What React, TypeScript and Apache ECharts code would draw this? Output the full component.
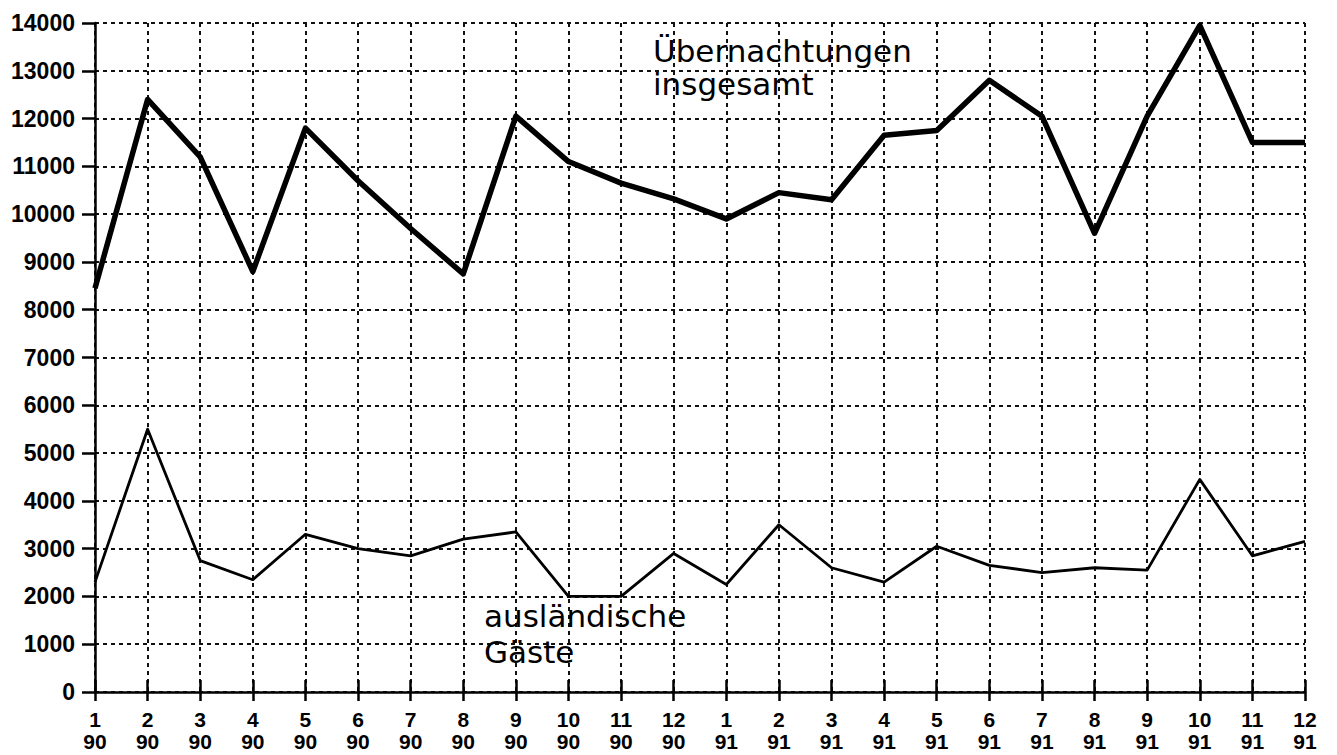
import React, { useEffect, useRef } from "react";
import * as echarts from "echarts";

const months = ["1","2","3","4","5","6","7","8","9","10","11","12","1","2","3","4","5","6","7","8","9","10","11","12"];
const years = ["90","90","90","90","90","90","90","90","90","90","90","90","91","91","91","91","91","91","91","91","91","91","91","91"];
const categories = months.map((m, i) => m + "\n" + years[i]);

const uebernachtungen = [8450, 12400, 11200, 8800, 11800, 10700, 9700, 8750, 12050, 11100, 10650, 10320, 9900, 10450, 10300, 11650, 11750, 12800, 12050, 9600, 12050, 13950, 11500, 11500];
const auslaendische = [2300, 5500, 2750, 2350, 3300, 3000, 2850, 3200, 3350, 2000, 2000, 2900, 2250, 3500, 2600, 2300, 3050, 2650, 2500, 2600, 2550, 4450, 2850, 3150];

const yMin = 0;
const yMax = 14000;
const yStep = 1000;

const labelTop = "Übernachtungen\ninsgesamt";
const labelBottom = "ausländische\nGäste";

export default function App() {
  const ref = useRef<HTMLDivElement>(null);
  useEffect(() => {
    if (!ref.current) return;
    const chart = echarts.init(ref.current, null, { renderer: "svg" });
    const dotted = { color: "#111", width: 2, type: [4, 4] as number[] };
    chart.setOption({
      animation: false,
      backgroundColor: "#fff",
      grid: { left: 95, right: 32, top: 23, bottom: 63, containLabel: false },
      xAxis: [
        {
          type: "category",
          data: categories,
          boundaryGap: false,
          axisLine: { show: true, lineStyle: { color: "#000", width: 2.5 } },
          axisTick: { show: true, alignWithLabel: true, length: 9, lineStyle: { color: "#000", width: 2.5 } },
          axisLabel: {
            color: "#000",
            fontFamily: "Liberation Sans",
            fontWeight: "bold",
            fontSize: 21,
            lineHeight: 22,
            margin: 16,
            interval: 0,
          },
          splitLine: { show: true, interval: 0, lineStyle: dotted },
        },
        {
          type: "category",
          data: categories,
          boundaryGap: false,
          position: "bottom",
          axisLine: { show: false },
          axisTick: { show: true, inside: true, length: 12, interval: 0, lineStyle: { color: "#000", width: 2.5 } },
          axisLabel: { show: false },
          splitLine: { show: false },
        },
      ],
      yAxis: {
        type: "value",
        min: yMin,
        max: yMax,
        interval: yStep,
        axisLine: { show: true, lineStyle: { color: "#000", width: 2.5 } },
        axisTick: { show: true, length: 13, lineStyle: { color: "#000", width: 2.5 } },
        axisLabel: {
          color: "#000",
          fontFamily: "Liberation Sans",
          fontWeight: "bold",
          fontSize: 23,
          margin: 20,
          formatter: (v: number) => String(v),
        },
        splitLine: { show: true, lineStyle: dotted },
      },
      series: [
        {
          name: "Übernachtungen insgesamt",
          type: "line",
          data: uebernachtungen,
          symbol: "none",
          lineStyle: { color: "#000", width: 5.5, join: "round" },
          z: 5,
        },
        {
          name: "ausländische Gäste",
          type: "line",
          data: auslaendische,
          symbol: "none",
          lineStyle: { color: "#000", width: 2.8, join: "round" },
          z: 5,
        },
      ],
      graphic: [
        {
          type: "text",
          left: 653,
          top: 34,
          z: 10,
          style: {
            text: labelTop,
            fill: "#000",
            fontFamily: "DejaVu Sans",
            fontSize: 31,
            lineHeight: 33,
          },
        },
        {
          type: "text",
          left: 484,
          top: 598,
          z: 10,
          style: {
            text: labelBottom,
            fill: "#000",
            fontFamily: "DejaVu Sans",
            fontSize: 31,
            lineHeight: 36,
          },
        },
      ],
    });
    return () => chart.dispose();
  }, []);
  return <div ref={ref} style={{ position: "absolute", left: 0, top: 0, width: 1337, height: 755 }} />;
}
